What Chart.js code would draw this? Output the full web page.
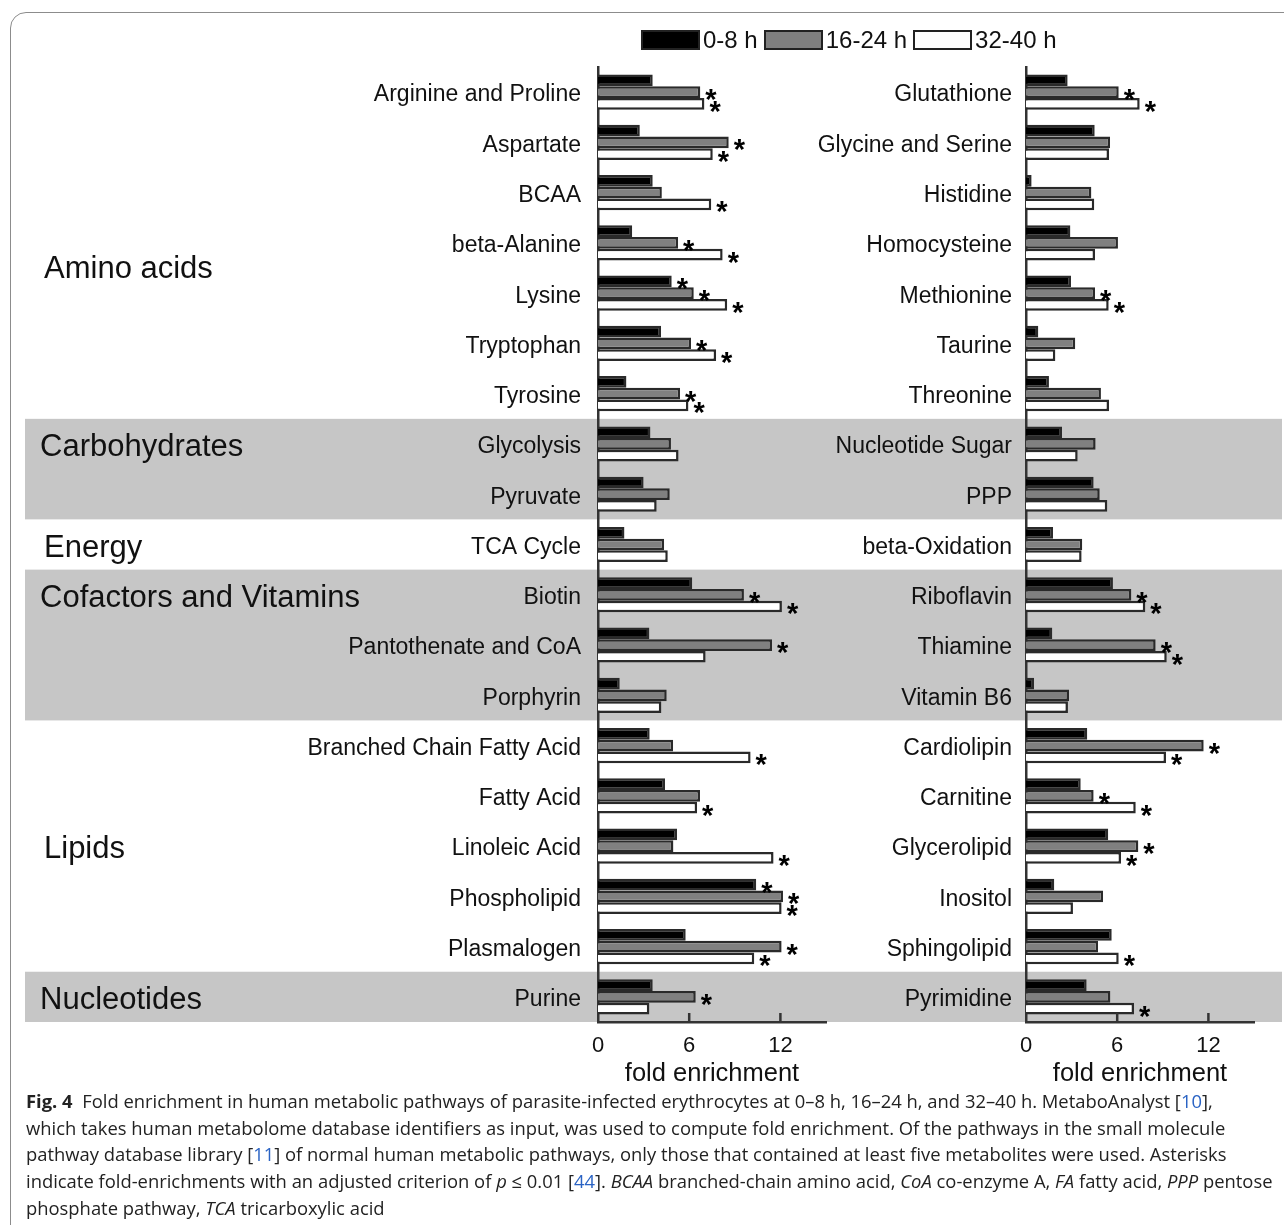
<!DOCTYPE html>
<html>
<head>
<meta charset="utf-8">
<script src="https://cdn.jsdelivr.net/npm/chart.js@4.4.1/dist/chart.umd.min.js"></script>
<style>
  body{margin:0;background:#fff;}
  #fig{position:relative;width:1284px;height:1225px;overflow:hidden;font-family:"Liberation Sans",Arial,sans-serif;}
  .frame{position:absolute;left:10px;top:12px;width:1300px;height:1240px;border:1.5px solid #8c8c8c;border-radius:16px;box-sizing:border-box;}
  canvas{position:absolute;top:0;}
  #cL{left:0;}
  #cR{left:800px;}
  .legend{position:absolute;top:30px;left:641px;display:flex;align-items:center;font-size:24px;color:#111;line-height:20px;}
  .legend .sw{width:55px;height:16px;border:2px solid #222;margin-right:3px;}
  .legend .t{margin-right:6px;}
  .cap{position:absolute;left:26px;top:1088px;font-family:"Open Sans",sans-serif;font-size:18.4px;line-height:26.7px;color:#222;white-space:nowrap;}
  .cap .r{color:#2a63c4;}
</style>
</head>
<body>
<div id="fig">
  <div class="frame"></div>
  <canvas id="cL" width="1284" height="1095"></canvas>
  <canvas id="cR" width="484" height="1095"></canvas>
  <div class="legend">
    <div class="sw" style="background:#000"></div><span class="t">0-8 h</span>
    <div class="sw" style="background:#808080"></div><span class="t">16-24 h</span>
    <div class="sw" style="background:#fff"></div><span class="t">32-40 h</span>
  </div>
  <div class="cap"><b>Fig. 4</b>&nbsp; Fold enrichment in human metabolic pathways of parasite-infected erythrocytes at 0–8 h, 16–24 h, and 32–40 h. MetaboAnalyst [<span class="r">10</span>],<br>which takes human metabolome database identifiers as input, was used to compute fold enrichment. Of the pathways in the small molecule<br>pathway database library [<span class="r">11</span>] of normal human metabolic pathways, only those that contained at least five metabolites were used. Asterisks<br>indicate fold-enrichments with an adjusted criterion of <i>p</i> ≤ 0.01 [<span class="r">44</span>]. <i>BCAA</i> branched-chain amino acid, <i>CoA</i> co-enzyme A, <i>FA</i> fatty acid, <i>PPP</i> pentose<br>phosphate pathway, <i>TCA</i> tricarboxylic acid</div>
</div>
<script>
/* ---- data ---- */
const SERIES = ['0-8 h', '16-24 h', '32-40 h'];
const GROUPS = ['Amino acids', 'Carbohydrates', 'Energy', 'Cofactors and Vitamins', 'Lipids', 'Nucleotides'];
const GROUP_SIZES = [7, 2, 1, 3, 5, 1];
const GROUP_SHADED = [false, true, false, true, false, true];
const GROUP_ANCHOR = [3.45, 7, 9, 10, 15, 18];   // category index the group name sits on
const X_TICKS = [0, 6, 12];

const LEFT_LABELS = ['Arginine and Proline', 'Aspartate', 'BCAA', 'beta-Alanine', 'Lysine', 'Tryptophan', 'Tyrosine',
  'Glycolysis', 'Pyruvate', 'TCA Cycle', 'Biotin', 'Pantothenate and CoA', 'Porphyrin',
  'Branched Chain Fatty Acid', 'Fatty Acid', 'Linoleic Acid', 'Phospholipid', 'Plasmalogen', 'Purine'];
const LEFT_H0 =  [3.6, 2.75, 3.6, 2.25, 4.85, 4.15, 1.87, 3.45, 3.0, 1.74, 6.2, 3.38, 1.43, 3.4, 4.41, 5.2, 10.41, 5.77, 3.6];
const LEFT_H16 = [6.73, 8.6, 4.2, 5.27, 6.3, 6.12, 5.4, 4.8, 4.72, 4.35, 9.6, 11.45, 4.52, 4.94, 6.71, 4.96, 12.17, 12.08, 6.43];
const LEFT_H32 = [7.0, 7.55, 7.45, 8.2, 8.5, 7.77, 5.95, 5.3, 3.86, 4.59, 12.1, 7.08, 4.17, 10.04, 6.52, 11.55, 12.08, 10.28, 3.38];
const LEFT_SIG0 =  [0,0,0,0,1,0,0, 0,0, 0, 0,0,0, 0,0,0,1,0, 0];
const LEFT_SIG16 = [1,1,0,1,1,1,1, 0,0, 0, 1,1,0, 0,0,0,1,1, 1];
const LEFT_SIG32 = [1,1,1,1,1,1,1, 0,0, 0, 1,0,0, 1,1,1,1,1, 0];

const RIGHT_LABELS = ['Glutathione', 'Glycine and Serine', 'Histidine', 'Homocysteine', 'Methionine', 'Taurine', 'Threonine',
  'Nucleotide Sugar', 'PPP', 'beta-Oxidation', 'Riboflavin', 'Thiamine', 'Vitamin B6',
  'Cardiolipin', 'Carnitine', 'Glycerolipid', 'Inositol', 'Sphingolipid', 'Pyrimidine'];
const RIGHT_H0 =  [2.74, 4.52, 0.37, 2.92, 2.96, 0.81, 1.51, 2.37, 4.45, 1.78, 5.72, 1.73, 0.53, 4.03, 3.6, 5.41, 1.86, 5.64, 3.99];
const RIGHT_H16 = [6.1, 5.53, 4.3, 6.05, 4.54, 3.24, 4.93, 4.58, 4.85, 3.7, 6.93, 8.53, 2.83, 11.69, 4.45, 7.39, 5.07, 4.74, 5.55];
const RIGHT_H32 = [7.48, 5.46, 4.49, 4.54, 5.44, 1.93, 5.46, 3.4, 5.35, 3.66, 7.85, 9.26, 2.76, 9.21, 7.22, 6.25, 3.09, 6.1, 7.11];
const RIGHT_SIG0 =  [0,0,0,0,0,0,0, 0,0, 0, 0,0,0, 0,0,0,0,0, 0];
const RIGHT_SIG16 = [1,0,0,0,1,0,0, 0,0, 0, 1,1,0, 1,1,1,0,0, 0];
const RIGHT_SIG32 = [1,0,0,0,1,0,0, 0,0, 0, 1,1,0, 1,1,1,0,1, 1];

/* ---- look ---- */
const FONT = '"Liberation Sans", Arial, sans-serif';
const FILLS = ['#000000', '#808080', '#ffffff'];
const EDGE = '#2a2a2a', AXIS = '#333333', BAND = '#c6c6c6';

// grey bands behind grouped rows + group names on the far left
const groupPlugin = {
  id: 'groups',
  beforeDraw(chart) {
    const {ctx} = chart, y = chart.scales.y;
    const step = y.getPixelForValue(1) - y.getPixelForValue(0);
    let start = 0;
    ctx.save();
    ctx.fillStyle = BAND;
    GROUP_SIZES.forEach((n, i) => {
      if (GROUP_SHADED[i]) {
        const top = y.getPixelForValue(start) - step / 2;
        const bot = y.getPixelForValue(start + n - 1) + step / 2;
        ctx.fillRect(25, top, chart.width - 27, bot - top);
      }
      start += n;
    });
    ctx.restore();
  },
  afterDraw(chart) {
    const {ctx} = chart, y = chart.scales.y;
    ctx.save();
    ctx.font = '31px ' + FONT;
    ctx.fillStyle = '#111';
    ctx.textAlign = 'left';
    ctx.textBaseline = 'middle';
    GROUPS.forEach((g, i) => ctx.fillText(g, GROUP_SHADED[i] ? 40 : 44, y.getPixelForValue(GROUP_ANCHOR[i]) + 3.5));
    ctx.restore();
  }
};

// asterisks for significant bars + inward tick marks on the x axis
const markPlugin = {
  id: 'marks',
  afterDatasetsDraw(chart) {
    const {ctx} = chart;
    ctx.save();
    ctx.font = 'bold 29px ' + FONT;
    ctx.fillStyle = '#000';
    ctx.textAlign = 'left';
    ctx.textBaseline = 'alphabetic';
    chart.data.datasets.forEach((ds, di) => {
      chart.getDatasetMeta(di).data.forEach((bar, i) => {
        if (ds.sig[i]) ctx.fillText('*', bar.x + 5, bar.y + 17);
      });
    });
    ctx.restore();
  },
  afterDraw(chart) {
    const {ctx, chartArea} = chart, x = chart.scales.x;
    ctx.save();
    ctx.strokeStyle = AXIS;
    ctx.lineWidth = 2.5;
    X_TICKS.filter(v => v > 0).forEach(v => {
      const px = x.getPixelForValue(v);
      ctx.beginPath();
      ctx.moveTo(px, chartArea.bottom);
      ctx.lineTo(px, chartArea.bottom - 9);
      ctx.stroke();
    });
    ctx.restore();
  }
};

function datasets(h0, h16, h32, s0, s16, s32) {
  return [h0, h16, h32].map((d, i) => ({
    label: SERIES[i], data: d, sig: [s0, s16, s32][i],
    backgroundColor: FILLS[i], borderColor: EDGE, borderWidth: 2.5
  }));
}

function options(labelPad, yWidth, padRight) {
  return {
    indexAxis: 'y', responsive: false, animation: false, devicePixelRatio: 1,
    layout: {padding: {top: 67, left: 0, right: padRight, bottom: 0}},
    plugins: {legend: {display: false}, tooltip: {enabled: false}},
    datasets: {bar: {categoryPercentage: 0.7, barPercentage: 1.0}},
    scales: {
      y: {
        z: 1,
        grid: {display: false, drawTicks: false},
        border: {display: true, color: AXIS, width: 2.5},
        ticks: {padding: labelPad, labelOffset: 3, color: '#111', autoSkip: false, font: {family: FONT, size: 23}},
        afterFit(s) { s.width = yWidth; }
      },
      x: {
        type: 'linear', min: 0, max: 15, z: 1,
        grid: {display: false, drawTicks: false},
        border: {display: true, color: AXIS, width: 2.5},
        ticks: {padding: 11, color: '#111', font: {family: FONT, size: 22}},
        afterBuildTicks(s) { s.ticks = X_TICKS.map(v => ({value: v})); },
        afterFit(s) { s.height = 73; },
        title: {display: true, text: 'fold enrichment', color: '#111',
                font: {family: FONT, size: 25.5}, padding: {top: 0, bottom: 6}}
      }
    }
  };
}

new Chart(document.getElementById('cL'), {
  type: 'bar',
  data: {labels: LEFT_LABELS, datasets: datasets(LEFT_H0, LEFT_H16, LEFT_H32, LEFT_SIG0, LEFT_SIG16, LEFT_SIG32)},
  options: options(17, 598, 1284 - 826),
  plugins: [groupPlugin, markPlugin]
});

new Chart(document.getElementById('cR'), {
  type: 'bar',
  data: {labels: RIGHT_LABELS, datasets: datasets(RIGHT_H0, RIGHT_H16, RIGHT_H32, RIGHT_SIG0, RIGHT_SIG16, RIGHT_SIG32)},
  options: options(14, 226, 30),
  plugins: [markPlugin]
});
</script>
</body>
</html>
